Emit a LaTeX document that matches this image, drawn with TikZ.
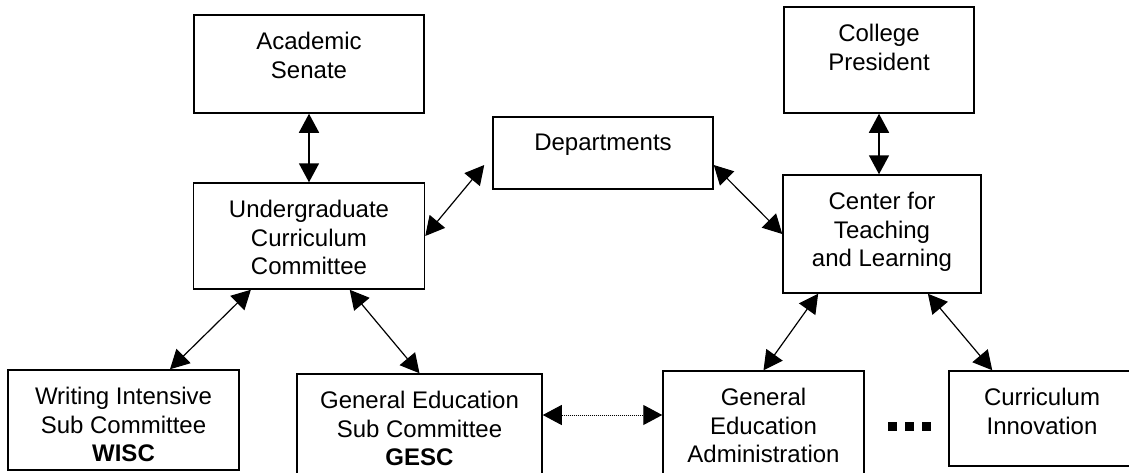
\documentclass[tikz,border=0pt]{standalone}
\usepackage{fontspec}
\setmainfont{Liberation Sans}
\usetikzlibrary{arrows.meta,calc}

\begin{document}
\begin{tikzpicture}[
    x=1pt, y=-1pt,
    >={Triangle[length=19pt, width=20pt]},
    box/.style={draw, line width=1.5pt, inner sep=0pt},
    lbl/.style={anchor=north, yshift=-18pt, inner sep=0pt, align=center, font=\fontsize{24}{28.5}\selectfont},
    link/.style={<->, line width=1.2pt},
    vlink/.style={<->, line width=1.7pt},
    dotlink/.style={<->, line width=1pt, dash pattern=on 1pt off 1pt}
]
\useasboundingbox (0,0) rectangle (1129,472);

\node[box, minimum width=230pt, minimum height=98pt, label={[lbl]north:Academic\\Senate}] (senate) at (309,64) {};
\node[box, minimum width=231pt, minimum height=106pt, label={[lbl]north:Undergraduate\\Curriculum\\Committee}] (ucc) at (309,236) {};
\node[box, minimum width=220pt, minimum height=72pt, label={[lbl]north:Departments}] (dept) at (603,153) {};
\node[box, minimum width=190pt, minimum height=106pt, label={[lbl]north:College\\President}] (pres) at (879,60) {};
\node[box, minimum width=198pt, minimum height=118pt, label={[lbl]north:Center for\\Teaching\\and Learning}] (ctl) at (882,234) {};
\node[box, minimum width=231pt, minimum height=100pt, label={[lbl]north:Writing Intensive\\Sub Committee\\\textbf{WISC}}] (wisc) at (123.5,420) {};
\node[box, minimum width=245pt, minimum height=104pt, label={[lbl]north:General Education\\Sub Committee\\\textbf{GESC}}] (gesc) at (419.5,426) {};
\node[box, minimum width=201pt, minimum height=108pt, label={[lbl]north:General\\Education\\Administration}] (gea) at (763.5,425) {};
\node[box, minimum width=186pt, minimum height=95pt, label={[lbl]north:Curriculum\\Innovation}] (ci) at (1042,418.5) {};

\draw[vlink] (senate.south) -- (ucc.north);
\draw[vlink] (pres.south) -- (pres.south |- ctl.north);
\draw[link] (ucc.east) -- ([xshift=-8pt, yshift=-12pt]dept.west);
\draw[link] ([yshift=-12pt]dept.east) -- (ctl.west);
\draw[link] ($(ucc.south west)!0.25!(ucc.south east)$) -- ($(wisc.north west)!0.7!(wisc.north east)$);
\draw[link] ($(ucc.south west)!0.675!(ucc.south east)$) -- (gesc.north);
\draw[link] ($(ctl.south west)!0.18!(ctl.south east)$) -- (gea.north);
\draw[link] ($(ctl.south west)!0.73!(ctl.south east)$) -- ([xshift=44pt]ci.north west);
\draw[dotlink] ([yshift=11pt]gesc.east) -- ([yshift=11pt]gesc.east -| gea.west);

\foreach \i in {0,1,2}
    \fill (888+17*\i,422) rectangle ++(8.5,8.5);
\end{tikzpicture}
\end{document}
